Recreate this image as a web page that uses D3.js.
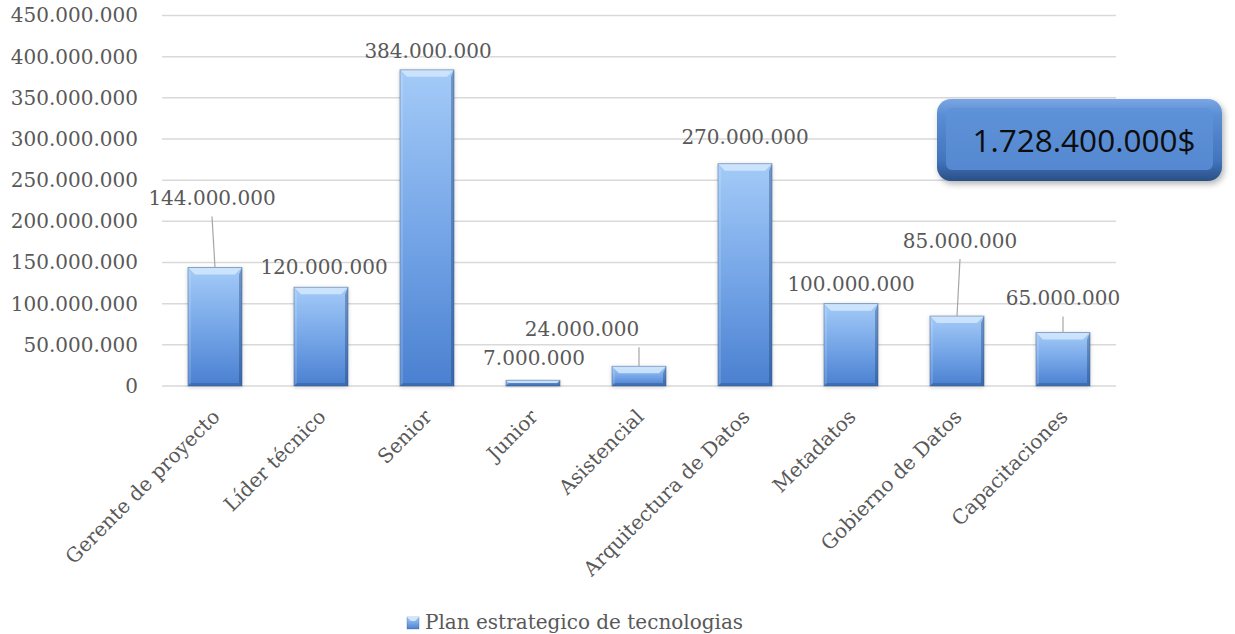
<!DOCTYPE html>
<html>
<head>
<meta charset="utf-8">
<script src="https://cdn.jsdelivr.net/npm/d3@7/dist/d3.min.js"></script>
<style>
  html, body { margin: 0; padding: 0; background: #ffffff; }
  svg { display: block; }
</style>
</head>
<body>
<svg id="chart" width="1235" height="634"></svg>
<script>
// ---- data ----
const categories = ["Gerente de proyecto", "Líder técnico", "Senior", "Junior", "Asistencial",
  "Arquitectura de Datos", "Metadatos", "Gobierno de Datos", "Capacitaciones"];
const values = [144000000, 120000000, 384000000, 7000000, 24000000, 270000000, 100000000, 85000000, 65000000];
const tickValues = [0, 50000000, 100000000, 150000000, 200000000, 250000000, 300000000, 350000000, 400000000, 450000000];
const seriesName = "Plan estrategico de tecnologias";
const totalLabel = "1.728.400.000$";

// label placement (layout only): horizontal shift and lift above bar top, leader line flag
const labelDx   = [-3, 3, 1, 1, -57, 0, 0, 3, 0];
const labelLift = [69, 20, 19, 22, 37, 27, 20, 75, 34];
const leader    = [true, false, false, false, true, false, false, true, true];

const locale = d3.formatLocale({decimal: ",", thousands: ".", grouping: [3], currency: ["", "$"]});
const fmt = locale.format(",d");

const svg = d3.select("#chart");
const serif = "'DejaVu Serif', serif";
const textColor = "#595959";
const fs = 20;

const x = d3.scaleBand().domain(categories).range([162, 1116]).paddingInner(0.49).paddingOuter(0.245);
const y = d3.scaleLinear().domain([0, 450000000]).range([386, 15.5]);

// defs
const defs = svg.append("defs");
const g1 = defs.append("linearGradient").attr("id", "barGrad").attr("x1", 0).attr("y1", 0).attr("x2", 0).attr("y2", 1);
g1.append("stop").attr("offset", "0%").attr("stop-color", "#a4cbf8");
g1.append("stop").attr("offset", "55%").attr("stop-color", "#72a3e6");
g1.append("stop").attr("offset", "100%").attr("stop-color", "#4a80d0");
const g2 = defs.append("linearGradient").attr("id", "boxGrad").attr("x1", 0).attr("y1", 0).attr("x2", 0).attr("y2", 1);
g2.append("stop").attr("offset", "0%").attr("stop-color", "#7aa6e4");
g2.append("stop").attr("offset", "20%").attr("stop-color", "#5a8dd4");
g2.append("stop").attr("offset", "75%").attr("stop-color", "#4275bd");
g2.append("stop").attr("offset", "100%").attr("stop-color", "#294f86");
const g3 = defs.append("linearGradient").attr("id", "faceGrad").attr("x1", 0).attr("y1", 0).attr("x2", 0).attr("y2", 1);
g3.append("stop").attr("offset", "0%").attr("stop-color", "#5e92d8");
g3.append("stop").attr("offset", "100%").attr("stop-color", "#5588d0");
const f = defs.append("filter").attr("id", "shadow").attr("x", "-20%").attr("y", "-20%").attr("width", "140%").attr("height", "140%");
f.append("feDropShadow").attr("dx", 0).attr("dy", 1).attr("stdDeviation", 2).attr("flood-color", "#000").attr("flood-opacity", 0.18);
const f2 = defs.append("filter").attr("id", "boxShadow").attr("x", "-20%").attr("y", "-30%").attr("width", "140%").attr("height", "160%");
f2.append("feDropShadow").attr("dx", 2).attr("dy", 3).attr("stdDeviation", 3).attr("flood-color", "#000").attr("flood-opacity", 0.3);

// gridlines
svg.append("g").selectAll("line").data(tickValues).join("line")
  .attr("x1", 162).attr("x2", 1116)
  .attr("y1", d => y(d)).attr("y2", d => y(d))
  .attr("stroke", "#d9d9d9").attr("stroke-width", 1.5);

// y axis labels
const yAxis = d3.axisLeft(y).tickValues(tickValues).tickFormat(fmt).tickSize(0).tickPadding(0);
const ya = svg.append("g").attr("transform", "translate(138,0)").call(yAxis);
ya.select(".domain").remove();
ya.selectAll("text").attr("font-family", serif).attr("font-size", fs).attr("fill", textColor);

// bars
const barsG = svg.append("g");
values.forEach((v, i) => {
  const bx = x(categories[i]), bw = x.bandwidth();
  const by = y(v), bh = y(0) - y(v);
  const g = barsG.append("g").attr("filter", "url(#shadow)");
  g.append("rect").attr("x", bx).attr("y", by).attr("width", bw).attr("height", bh).attr("fill", "url(#barGrad)");
  const bt = Math.min(7, bh / 2), bs = Math.min(3, bh / 2);
  g.append("polygon").attr("points", [[bx, by], [bx + bw, by], [bx + bw - bt, by + bt], [bx + bt, by + bt]].join(" "))
    .attr("fill", "#d2e7fd").attr("opacity", 0.85);
  g.append("polygon").attr("points", [[bx, by], [bx + bs, by + bt], [bx + bs, by + bh - bs], [bx, by + bh]].join(" "))
    .attr("fill", "#ffffff").attr("opacity", 0.15);
  g.append("polygon").attr("points", [[bx + bw, by], [bx + bw, by + bh], [bx + bw - bs, by + bh - bs], [bx + bw - bs, by + bt]].join(" "))
    .attr("fill", "#1f3f6e").attr("opacity", 0.38);
  g.append("polygon").attr("points", [[bx, by + bh], [bx + bw, by + bh], [bx + bw - bs, by + bh - bs], [bx + bs, by + bh - bs]].join(" "))
    .attr("fill", "#1f3f6e").attr("opacity", 0.3);
  g.append("rect").attr("x", bx).attr("y", by).attr("width", bw).attr("height", bh)
    .attr("fill", "none").attr("stroke", "#2f5587").attr("stroke-opacity", 0.55).attr("stroke-width", 0.8);
});

// data labels + leader lines
values.forEach((v, i) => {
  const cx = x(categories[i]) + x.bandwidth() / 2;
  const top = y(v);
  const ly = top - labelLift[i];
  const lx = cx + labelDx[i];
  if (leader[i]) {
    const lineX = labelDx[i] < -20 ? cx : lx;
    svg.append("line").attr("x1", lineX).attr("y1", ly + 18).attr("x2", cx).attr("y2", top)
      .attr("stroke", "#a6a6a6").attr("stroke-width", 1.2);
  }
  svg.append("text").attr("x", lx).attr("y", ly).attr("dy", "0.35em")
    .attr("text-anchor", "middle").attr("font-family", serif).attr("font-size", fs)
    .attr("fill", textColor).text(fmt(v));
});

// category labels
svg.append("g").selectAll("text").data(categories).join("text")
  .attr("transform", d => `translate(${x(d) + x.bandwidth() / 2 + 1},${413}) rotate(-45)`)
  .attr("text-anchor", "end").attr("dy", "0.35em")
  .attr("font-family", serif).attr("font-size", fs).attr("fill", textColor)
  .text(d => d);

// legend
const lg = svg.append("g");
lg.append("rect").attr("x", 407).attr("y", 617).attr("width", 12).attr("height", 12)
  .attr("fill", "url(#barGrad)").attr("stroke", "#2f5587").attr("stroke-opacity", 0.5).attr("stroke-width", 0.6);
lg.append("polygon").attr("points", "407,617 419,617 415,621 411,621").attr("fill", "#d2e7fd");
lg.append("text").attr("x", 425).attr("y", 629).attr("font-family", serif).attr("font-size", fs)
  .attr("fill", textColor).text(seriesName);

// total callout box
const box = svg.append("g").attr("filter", "url(#boxShadow)");
box.append("rect").attr("x", 937).attr("y", 99).attr("width", 285).attr("height", 82).attr("rx", 14)
  .attr("fill", "url(#boxGrad)");
box.append("rect").attr("x", 946).attr("y", 108).attr("width", 267).attr("height", 62).attr("rx", 6)
  .attr("fill", "url(#faceGrad)");
svg.append("text").attr("x", 1084).attr("y", 141).attr("dy", "0.35em").attr("text-anchor", "middle")
  .attr("font-family", "'Open Sans', sans-serif").attr("font-size", 31.5).attr("fill", "#0d0d0d")
  .text(totalLabel);
</script>
</body>
</html>
